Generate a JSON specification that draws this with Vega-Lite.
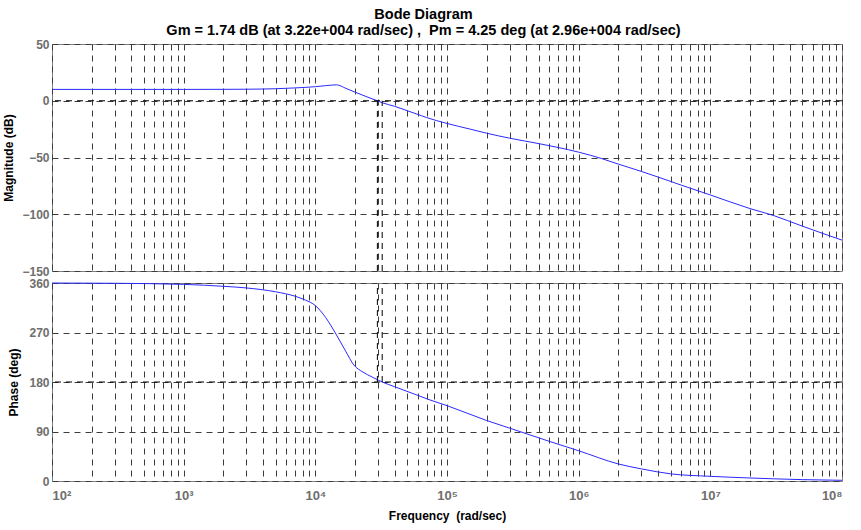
{
  "$schema": "https://vega.github.io/schema/vega-lite/v6.json",
  "background": "white",
  "padding": {"left": 2, "top": 6, "right": 12, "bottom": 2},
  "title": {
    "text": "Bode Diagram",
    "subtitle": "Gm = 1.74 dB (at 3.22e+004 rad/sec) ,\u00a0 Pm = 4.25 deg (at 2.96e+004 rad/sec)",
    "font": "Liberation Sans",
    "subtitleFont": "Liberation Sans",
    "fontSize": 14.5,
    "subtitleFontSize": 14.5,
    "fontWeight": "bold",
    "subtitleFontWeight": "bold",
    "color": "black",
    "subtitleColor": "black",
    "anchor": "middle",
    "offset": -1,
    "subtitlePadding": 2
  },
  "datasets": {
    "mag": [
      {"f": 100, "db": 10}, {"f": 200, "db": 10}, {"f": 500, "db": 10}, {"f": 1000, "db": 10},
      {"f": 2000, "db": 10.05}, {"f": 3000, "db": 10.15}, {"f": 5000, "db": 10.6}, {"f": 7000, "db": 11.3},
      {"f": 10000, "db": 12.4}, {"f": 12000, "db": 13.3}, {"f": 14500, "db": 14}, {"f": 17000, "db": 11},
      {"f": 20000, "db": 7.6}, {"f": 23000, "db": 4.8}, {"f": 26000, "db": 2.4}, {"f": 29600, "db": 0},
      {"f": 32200, "db": -1.74}, {"f": 40000, "db": -4.9}, {"f": 50000, "db": -8.8}, {"f": 64000, "db": -13.2},
      {"f": 70000, "db": -14.8}, {"f": 100000, "db": -20}, {"f": 150000, "db": -25}, {"f": 200000, "db": -28.6},
      {"f": 300000, "db": -33}, {"f": 500000, "db": -37.8}, {"f": 700000, "db": -41.2}, {"f": 1000000, "db": -45.3},
      {"f": 1500000, "db": -51}, {"f": 2000000, "db": -55.8}, {"f": 3000000, "db": -62.3}, {"f": 4000000, "db": -67.2},
      {"f": 6000000, "db": -74.3}, {"f": 10000000, "db": -83}, {"f": 20000000, "db": -95}, {"f": 30000000, "db": -101},
      {"f": 50000000, "db": -110.5}, {"f": 100000000, "db": -122.8}
    ],
    "phase": [
      {"f": 100, "deg": 360}, {"f": 300, "deg": 359.5}, {"f": 1000, "deg": 357.5}, {"f": 2000, "deg": 354},
      {"f": 3000, "deg": 351}, {"f": 5000, "deg": 344}, {"f": 7000, "deg": 336}, {"f": 8400, "deg": 329},
      {"f": 10000, "deg": 319}, {"f": 12000, "deg": 297}, {"f": 14200, "deg": 269}, {"f": 17000, "deg": 236},
      {"f": 19600, "deg": 211}, {"f": 23000, "deg": 198}, {"f": 27000, "deg": 189}, {"f": 29600, "deg": 184.25},
      {"f": 32200, "deg": 180}, {"f": 40000, "deg": 171.5}, {"f": 58000, "deg": 157}, {"f": 73000, "deg": 148},
      {"f": 100000, "deg": 137}, {"f": 200000, "deg": 110}, {"f": 300000, "deg": 96}, {"f": 600000, "deg": 72},
      {"f": 1000000, "deg": 55}, {"f": 2000000, "deg": 31}, {"f": 3000000, "deg": 22}, {"f": 5000000, "deg": 13},
      {"f": 10000000, "deg": 8.5}, {"f": 20000000, "deg": 5.5}, {"f": 30000000, "deg": 4}, {"f": 50000000, "deg": 2.5},
      {"f": 100000000, "deg": 1.3}
    ],
    "magMargins": [
      {"f": 29600, "lo": -150, "hi": 0},
      {"f": 32200, "lo": -150, "hi": 0}
    ],
    "phaseMargins": [
      {"f": 29600, "lo": 180, "hi": 360},
      {"f": 32200, "lo": 180, "hi": 360}
    ],
    "magZero": [{"db": 0}],
    "phase180": [{"deg": 180}]
  },
  "config": {
    "view": {"stroke": "#808080", "strokeWidth": 1},
    "axis": {
      "grid": true,
      "gridColor": "#3c3c3c",
      "gridDash": [6, 5],
      "gridWidth": 1,
      "domain": false,
      "ticks": false,
      "labelFont": "Liberation Sans",
      "labelFontWeight": "bold",
      "labelColor": "#6e6e6e",
      "labelFontSize": 12,
      "titleFont": "Liberation Sans",
      "titleFontWeight": "bold",
      "titleColor": "black",
      "titleFontSize": 12
    }
  },
  "bounds": "flush",
  "spacing": 12,
  "vconcat": [
    {
      "width": 790,
      "height": 227,
      "layer": [
        {
          "data": {"name": "mag"},
          "mark": {"type": "line", "color": "#2a2aff", "strokeWidth": 1, "interpolate": "monotone"},
          "encoding": {
            "x": {"field": "f", "type": "quantitative",
              "scale": {"type": "log", "domain": [100, 100000000], "nice": false},
              "axis": {"values": [100,200,300,400,500,600,700,800,900,1000,2000,3000,4000,5000,6000,7000,8000,9000,10000,20000,30000,40000,50000,60000,70000,80000,90000,100000,200000,300000,400000,500000,600000,700000,800000,900000,1000000,2000000,3000000,4000000,5000000,6000000,7000000,8000000,9000000,10000000,20000000,30000000,40000000,50000000,60000000,70000000,80000000,90000000,100000000],
                "labels": false, "title": null, "labelPadding": 0, "minExtent": 0, "maxExtent": 0}},
            "y": {"field": "db", "type": "quantitative",
              "scale": {"domain": [-150, 50], "nice": false, "zero": false},
              "axis": {"values": [-150, -100, -50, 0, 50], "title": "Magnitude (dB)", "labelPadding": 3, "titlePadding": 6}}
          }
        },
        {
          "data": {"name": "magZero"},
          "mark": {"type": "rule", "color": "black", "strokeDash": [6, 5], "strokeWidth": 1},
          "encoding": {"y": {"field": "db", "type": "quantitative"}}
        },
        {
          "data": {"name": "magMargins"},
          "mark": {"type": "rule", "color": "black", "strokeDash": [6, 5], "strokeWidth": 1},
          "encoding": {
            "x": {"field": "f", "type": "quantitative"},
            "y": {"field": "lo", "type": "quantitative"},
            "y2": {"field": "hi"}
          }
        }
      ]
    },
    {
      "width": 790,
      "height": 198,
      "layer": [
        {
          "data": {"name": "phase"},
          "mark": {"type": "line", "color": "#2a2aff", "strokeWidth": 1, "interpolate": "monotone"},
          "encoding": {
            "x": {"field": "f", "type": "quantitative",
              "scale": {"type": "log", "domain": [100, 100000000], "nice": false},
              "axis": {"values": [100,200,300,400,500,600,700,800,900,1000,2000,3000,4000,5000,6000,7000,8000,9000,10000,20000,30000,40000,50000,60000,70000,80000,90000,100000,200000,300000,400000,500000,600000,700000,800000,900000,1000000,2000000,3000000,4000000,5000000,6000000,7000000,8000000,9000000,10000000,20000000,30000000,40000000,50000000,60000000,70000000,80000000,90000000,100000000],
                "labelExpr": "datum.value == 100 ? '10²' : datum.value == 1000 ? '10³' : datum.value == 10000 ? '10⁴' : datum.value == 100000 ? '10⁵' : datum.value == 1000000 ? '10⁶' : datum.value == 10000000 ? '10⁷' : datum.value == 100000000 ? '10⁸' : ''",
                "labelOverlap": false,
                "labelFontSize": 13,
                "labelPadding": 8,
                "title": "Frequency\u00a0 (rad/sec)",
                "titlePadding": 8}},
            "y": {"field": "deg", "type": "quantitative",
              "scale": {"domain": [0, 360], "nice": false},
              "axis": {"values": [0, 90, 180, 270, 360], "title": "Phase (deg)", "labelPadding": 3, "titlePadding": 8}}
          }
        },
        {
          "data": {"name": "phase180"},
          "mark": {"type": "rule", "color": "black", "strokeDash": [6, 5], "strokeWidth": 1},
          "encoding": {"y": {"field": "deg", "type": "quantitative"}}
        },
        {
          "data": {"name": "phaseMargins"},
          "mark": {"type": "rule", "color": "black", "strokeDash": [6, 5], "strokeWidth": 1},
          "encoding": {
            "x": {"field": "f", "type": "quantitative"},
            "y": {"field": "lo", "type": "quantitative"},
            "y2": {"field": "hi"}
          }
        }
      ]
    }
  ]
}
